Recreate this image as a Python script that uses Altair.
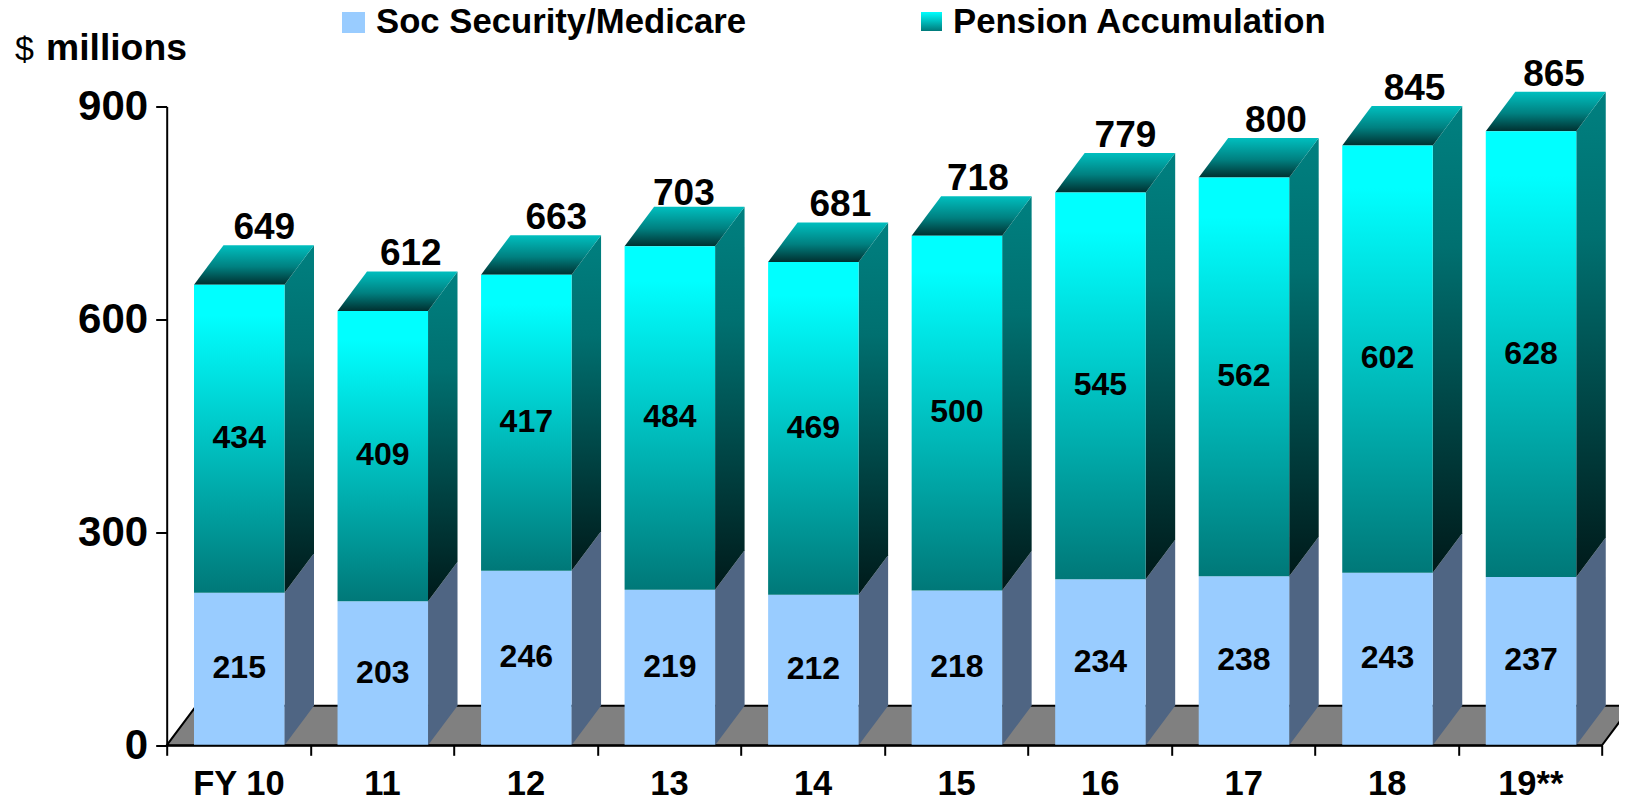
import altair as alt
import pandas as pd

categories = ["FY 10", "11", "12", "13", "14", "15", "16", "17", "18", "19**"]
soc_security = [215, 203, 246, 219, 212, 218, 234, 238, 243, 237]
pension = [434, 409, 417, 484, 469, 500, 545, 562, 602, 628]
totals = [649, 612, 663, 703, 681, 718, 779, 800, 845, 865]
y_ticks = [0, 300, 600, 900]

# Layout helpers (pixels -> scale units)
W, H = 1435.3, 638.8
XU = W / 10
YU = H / 900
BAR_L = 27.3 / XU
BAR_R = 117.8 / XU
DX = 29.5 / XU
DY = 39.5 / YU
FONT = "Liberation Sans"
# hand placement of the total labels in the original (category -> pixel nudge)
NUDGE_X = {"11": 3, "12": 5, "13": -11, "14": 2, "15": -4, "17": 7, "18": 2, "19**": -2}
NUDGE_Y = {"13": -4}

df = pd.DataFrame({"i": range(10), "cat": categories, "soc": soc_security,
                   "pen": pension, "total": totals})
df["x0"] = df.i + BAR_L
df["x1"] = df.i + BAR_R
df["xm"] = (df.x0 + df.x1) / 2
df["xtot"] = df.xm + (25 + df.cat.map(NUDGE_X).fillna(0)) / XU
df["ytot"] = df.total + DY + (6 + df.cat.map(NUDGE_Y).fillna(0)) / YU
df["ysoc"] = df.soc / 2 + 1
df["ypen"] = df.soc + df.pen / 2 + 1

x_scale = alt.Scale(domain=[0, 10], nice=False, zero=False)
y_scale = alt.Scale(domain=[0, 900], nice=False)
x_axis = alt.Axis(
    values=list(range(11)), title=None, grid=False, domainColor="#000", domainWidth=2,
    tickColor="#000", tickWidth=2, tickSize=10, labelOffset=W / 20, labelFont=FONT,
    labelFontSize=34.5, labelFontWeight="bold", labelColor="#000", labelPadding=12,
    labelAlign="center", labelFlush=False, labelOverlap=False, zindex=1,
    labelExpr="datum.value < 10 ? " + str(categories) + "[datum.value] : ''")
y_axis = alt.Axis(
    values=y_ticks, title=None, grid=False, domainColor="#000", domainWidth=2,
    tickColor="#000", tickWidth=2, tickSize=11, labelFont=FONT, labelFontSize=42,
    labelFontWeight="bold", labelColor="#000", labelPadding=8, labelFlush=False,
    labelOverlap=False, zindex=1)
X = lambda f, **k: alt.X(f, type="quantitative", scale=x_scale, axis=x_axis, **k)
Y = lambda f, **k: alt.Y(f, type="quantitative", scale=y_scale, axis=y_axis, **k)


def grad(stops):
    return alt.Gradient(gradient="linear", x1=0, y1=0, x2=0, y2=1,
                        stops=[alt.GradientStop(offset=o, color=c) for o, c in stops])


front_pen = grad([(0, "#00FFFF"), (0.1, "#00FFFF"), (1, "#007878")])
side_pen = grad([(0, "#008080"), (0.3, "#007070"), (1, "#001A1A")])
top_face = grad([(0, "#00BFBF"), (0.55, "#008080"), (1, "#003030")])

# side faces: two-point parallelograms
side_rows = []
for _, r in df.iterrows():
    for off in (0, 1):
        side_rows.append({"i": r.i, "x": r.x1 + off * DX,
                          "s0": off * DY, "s1": r.soc + off * DY,
                          "p0": r.soc + off * DY, "p1": r.total + off * DY})
side = pd.DataFrame(side_rows)

top_rows = []
for _, r in df.iterrows():
    for off in (0, 1):
        top_rows.append({"i": r.i, "y": r.total + off * DY,
                         "a": r.x0 + off * DX, "b": r.x1 + off * DX})
tops = pd.DataFrame(top_rows)

floor_df = pd.DataFrame({"y": [0, DY], "a": [0, DX], "b": [10, 10 + DX]})

floor = alt.Chart(floor_df).mark_area(orient="horizontal", color="#808080", stroke="#000000",
                                      strokeWidth=2, clip=False).encode(
    y=Y("y"), x=X("a"), x2="b")

side_soc = alt.Chart(side).mark_area(color="#4F6583", clip=False).encode(
    x=X("x"), y=Y("s0"), y2="s1", detail="i:N")
side_top = alt.Chart(side).mark_area(color=side_pen, clip=False).encode(
    x=X("x"), y=Y("p0"), y2="p1", detail="i:N")
top_mark = alt.Chart(tops).mark_area(orient="horizontal", color=top_face, clip=False).encode(
    y=Y("y"), x=X("a"), x2="b", detail="i:N")

front_soc = alt.Chart(df).mark_bar(color="#99CCFF", clip=False).encode(
    x=X("x0"), x2="x1", y=Y("soc"), y2=alt.Y2(datum=0))
front_top = alt.Chart(df).mark_bar(color=front_pen, clip=False).encode(
    x=X("x0"), x2="x1", y=Y("soc"), y2="total")

txt_soc = alt.Chart(df).mark_text(font=FONT, fontSize=32, fontWeight="bold", color="#000",
                                  clip=False).encode(x=X("xm"), y=Y("ysoc"), text="soc:N")
txt_pen = alt.Chart(df).mark_text(font=FONT, fontSize=32, fontWeight="bold", color="#000",
                                  clip=False).encode(x=X("xm"), y=Y("ypen"), text="pen:N")
txt_tot = alt.Chart(df).mark_text(font=FONT, fontSize=37, fontWeight="bold", color="#000",
                                  baseline="alphabetic", clip=False).encode(
    x=X("xtot"), y=Y("ytot"), text="total:N")


def swatch(x, x2, y, y2, color):
    return alt.Chart(pd.DataFrame({"k": [0]})).mark_rect(color=color, clip=False).encode(
        x=alt.value(x), x2=alt.value(x2), y=alt.value(y), y2=alt.value(y2))


def label(t, x, y, size, weight="bold"):
    return alt.Chart(pd.DataFrame({"t": [t]})).mark_text(
        font=FONT, fontSize=size, fontWeight=weight, align="left", baseline="alphabetic",
        color="#000", clip=False).encode(x=alt.value(x), y=alt.value(y), text="t:N")


OX, OY = 166.7, 106.5
extras = [
    swatch(342 - OX, 365 - OX, 12 - OY, 33 - OY, "#99CCFF"),
    swatch(921 - OX, 942 - OX, 12 - OY, 31 - OY, grad([(0, "#00FFFF"), (1, "#007A7A")])),
    label("Soc Security/Medicare", 376 - OX, 33 - OY, 34.7),
    label("Pension Accumulation", 953 - OX, 33 - OY, 34.7),
    label("$", 15 - OX, 60 - OY, 34, "normal"),
    label("millions", 46 - OX, 60 - OY, 37.3),
]

chart = alt.layer(
    floor, side_soc, side_top, top_mark, front_soc, front_top,
    txt_soc, txt_pen, txt_tot, *extras
).properties(
    width=W, height=H, background="#FFFFFF",
    padding={"left": OX - 8, "top": OY - 8, "right": 1611 - (OX - 8) - W,
             "bottom": 797 - (OY - 8) - H},
    autosize=alt.AutoSizeParams(type="none"),
).configure_view(stroke=None)

chart.save("out.html", embed_options={"renderer": "svg", "actions": False})
